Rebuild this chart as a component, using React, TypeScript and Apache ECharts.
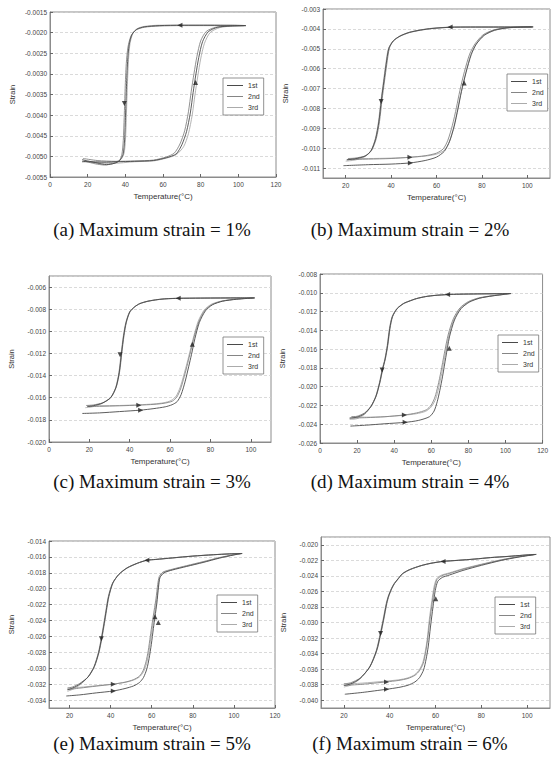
import React, { useEffect, useRef } from 'react';
import * as echarts from 'echarts';

const cycleNames = ['1st', '2nd', '3rd'];
const xTitle = 'Temperature(°C)';
const yTitle = 'Strain';
const captions = [
  '(a) Maximum strain = 1%',
  '(b) Maximum strain = 2%',
  '(c) Maximum strain = 3%',
  '(d) Maximum strain = 4%',
  '(e) Maximum strain = 5%',
  '(f) Maximum strain = 6%',
];

// ---- (a) 1% ----
const a1st = [[17,-0.00512],[25,-0.00514],[35,-0.00513],[45,-0.00512],[55,-0.0051],[62,-0.00503],[67,-0.00494],[70,-0.00472],[72.5,-0.0044],[74.5,-0.00395],[76,-0.00345],[77.5,-0.003],[79,-0.0026],[81,-0.00222],[84,-0.00198],[89,-0.00187],[96,-0.00184],[104,-0.00183],
  [96,-0.00182],[85,-0.00182],[70,-0.00182],[58,-0.00183],[50,-0.00186],[46,-0.00192],[43.5,-0.00205],[42,-0.0023],[41.2,-0.0027],[40.6,-0.0033],[40.1,-0.004],[39.6,-0.0046],[38.8,-0.00495],[37,-0.0051],[34,-0.00517],[30,-0.0052],[25,-0.00516],[20,-0.00511],[17,-0.00508]];
const a2nd = [[17.5,-0.00505],[25,-0.0051],[35,-0.00512],[45,-0.00511],[55,-0.00509],[62,-0.00501],[66,-0.00492],[69,-0.0047],[71.5,-0.00438],[73.5,-0.00392],[75,-0.00342],[76.5,-0.00298],[78,-0.00258],[80,-0.0022],[83,-0.00197],[88,-0.00187],[95,-0.00184],[103,-0.00183],
  [95,-0.00183],[85,-0.00183],[70,-0.00183],[58,-0.00184],[50,-0.00187],[45.5,-0.00194],[43,-0.00208],[41.4,-0.00235],[40.5,-0.00275],[39.9,-0.00335],[39.4,-0.00405],[38.9,-0.00462],[38.1,-0.00497],[36.5,-0.00512],[33,-0.00518],[29,-0.00521],[24,-0.00518],[18,-0.00511]];
const a3rd = [[18,-0.00511],[25,-0.00516],[33,-0.00517],[45,-0.00513],[55,-0.00511],[62,-0.00504],[67,-0.00496],[71,-0.00476],[73.5,-0.00445],[75.5,-0.004],[77,-0.0035],[78.5,-0.00305],[80,-0.00264],[82,-0.00226],[85,-0.002],[90,-0.00188],[97,-0.00184],[104,-0.00183],
  [96,-0.00183],[85,-0.00182],[70,-0.00182],[58,-0.00182],[50,-0.00185],[46.5,-0.0019],[44,-0.00202],[42.5,-0.00226],[41.7,-0.00265],[41.1,-0.00325],[40.6,-0.00395],[40.1,-0.00458],[39.3,-0.00493],[37.5,-0.00508],[34,-0.00514],[30,-0.00515],[24,-0.00512],[17,-0.00514]];
const aArrows = [[69,-0.00182,90],[39.5,-0.00372,180],[77.3,-0.00321,0]];

// ---- (b) 2% ----
const b1st = [[19,-0.01088],[30,-0.01083],[40,-0.0108],[48.5,-0.01074],[55,-0.01062],[60,-0.01045],[63.5,-0.01015],[65.8,-0.00965],[67.8,-0.0089],[69.5,-0.008],[71,-0.00715],[73,-0.0062],[75.3,-0.0053],[77.5,-0.00477],[81,-0.00432],[85.5,-0.00407],[91,-0.00395],[97,-0.00391],[102.6,-0.0039],
  [95,-0.00391],[85,-0.00391],[75,-0.00391],[66,-0.00392],[58,-0.00398],[53,-0.00406],[48,-0.00418],[44,-0.00436],[41,-0.0046],[39,-0.00498],[37.8,-0.0058],[36.8,-0.00665],[35.7,-0.0076],[34.6,-0.00868],[33.2,-0.00952],[31.2,-0.01012],[28.5,-0.0104],[24,-0.01054],[20.5,-0.01058]];
const b2nd = [[20.5,-0.01058],[30,-0.01055],[40,-0.01052],[48,-0.01046],[55,-0.01038],[60,-0.01025],[63,-0.01003],[65,-0.0096],[67,-0.00885],[68.8,-0.00795],[70.3,-0.0071],[72.3,-0.00615],[74.6,-0.00527],[77,-0.00475],[80.5,-0.0043],[85,-0.00406],[90,-0.00395],[96,-0.00391],[102,-0.0039],
  [95,-0.0039],[85,-0.0039],[75,-0.0039],[66,-0.00391],[58,-0.00397],[53,-0.00405],[48,-0.00417],[44,-0.00435],[41.2,-0.00458],[39.3,-0.00495],[38.1,-0.00578],[37.1,-0.00662],[36,-0.00757],[34.9,-0.00865],[33.5,-0.0095],[31.5,-0.0101],[28.8,-0.01038],[24,-0.0105],[21,-0.01052]];
const b3rd = [[21,-0.01052],[30,-0.01052],[40,-0.0105],[48,-0.01046],[55,-0.0104],[60,-0.0103],[63.5,-0.0101],[65.6,-0.00968],[67.6,-0.00893],[69.3,-0.00805],[70.8,-0.0072],[72.8,-0.00625],[75,-0.00533],[77.4,-0.00478],[81,-0.00433],[85.5,-0.00408],[91,-0.00396],[97,-0.00391],[102.4,-0.0039],
  [95,-0.00391],[85,-0.00391],[75,-0.00391],[66,-0.00392],[58,-0.00399],[53,-0.00407],[48,-0.00419],[44,-0.00437],[40.8,-0.00462],[38.8,-0.005],[37.6,-0.00582],[36.6,-0.00668],[35.5,-0.00763],[34.4,-0.0087],[33,-0.00955],[31,-0.01015],[28.2,-0.01044],[24,-0.0106],[20,-0.01065]];
const bArrows = [[66,-0.00391,90],[35.6,-0.00765,180],[48.3,-0.01046,-90],[48.5,-0.01074,-90],[72.2,-0.00672,0]];

// ---- (c) 3% ----
const c1st = [[16.5,-0.01742],[25,-0.01737],[35,-0.01725],[45.4,-0.01712],[52,-0.01698],[57.6,-0.01682],[61,-0.01663],[63.5,-0.01635],[65.5,-0.0157],[67.5,-0.0145],[69.2,-0.0132],[70.6,-0.0121],[72.3,-0.01065],[74.5,-0.0092],[77.5,-0.00815],[81,-0.0076],[86,-0.00728],[93,-0.0071],[102,-0.00698],
  [95,-0.00698],[85,-0.00699],[75,-0.007],[64,-0.00702],[58,-0.00706],[54,-0.00713],[49,-0.00728],[45,-0.0075],[42.5,-0.00778],[40,-0.00825],[38.2,-0.0092],[37,-0.0104],[35.9,-0.012],[34.8,-0.0137],[33.2,-0.01505],[30.6,-0.01598],[26.5,-0.01648],[22,-0.01672],[19,-0.0168]];
const c2nd = [[19,-0.0168],[25,-0.01678],[35,-0.01673],[44.5,-0.01667],[52,-0.0166],[57,-0.0165],[61,-0.01632],[63.3,-0.01595],[65.2,-0.0152],[67,-0.0141],[68.7,-0.0129],[70.2,-0.0118],[72,-0.01045],[74.3,-0.0091],[77.3,-0.00808],[81,-0.00756],[86,-0.00726],[93,-0.00709],[101.5,-0.00698],
  [95,-0.00698],[85,-0.00698],[75,-0.00699],[64,-0.00701],[58,-0.00705],[54,-0.00712],[49,-0.00727],[45,-0.00748],[42.7,-0.00775],[40.2,-0.00822],[38.4,-0.00915],[37.2,-0.01035],[36.1,-0.01195],[35,-0.01365],[33.4,-0.015],[30.8,-0.01595],[26.7,-0.01645],[22,-0.01665],[18.5,-0.0167]];
const c3rd = [[18.5,-0.0167],[25,-0.01672],[35,-0.0167],[44.5,-0.01664],[52,-0.01656],[57,-0.01645],[60.5,-0.01625],[63,-0.01585],[65,-0.01505],[66.8,-0.01395],[68.5,-0.0128],[70,-0.0117],[71.8,-0.0104],[74,-0.00905],[77,-0.00805],[80.5,-0.00755],[85.5,-0.00726],[92.5,-0.00709],[101,-0.00698],
  [95,-0.00698],[85,-0.00699],[75,-0.007],[64,-0.00702],[58,-0.00707],[54,-0.00714],[49,-0.00729],[45,-0.00751],[42.3,-0.0078],[39.8,-0.00828],[38,-0.00925],[36.8,-0.01045],[35.7,-0.01205],[34.6,-0.01375],[33,-0.0151],[30.4,-0.01602],[26.3,-0.01652],[22,-0.0168],[18,-0.0169]];
const cArrows = [[64,-0.007,90],[35.2,-0.01211,180],[45.4,-0.01712,-90],[44.5,-0.01667,-90],[71,-0.01116,0]];

// ---- (d) 4% ----
const d1st = [[16.4,-0.0242],[25,-0.0241],[35,-0.02395],[45.9,-0.0238],[53,-0.0236],[59,-0.0232],[61.5,-0.0226],[63.2,-0.0216],[64.6,-0.0204],[66.1,-0.01888],[67.8,-0.0169],[69.8,-0.0147],[72.5,-0.0129],[76,-0.0117],[80.5,-0.011],[86,-0.01058],[93,-0.01033],[98,-0.0102],[103,-0.01008],
  [95,-0.0101],[85,-0.01012],[75,-0.01015],[68.8,-0.01019],[62,-0.01028],[57,-0.0104],[52,-0.01062],[48,-0.0109],[45,-0.01115],[41.5,-0.0117],[39,-0.01255],[37.6,-0.0138],[36.4,-0.0156],[35.1,-0.01705],[33.6,-0.01823],[32.2,-0.01955],[30.2,-0.021],[27.5,-0.0221],[24,-0.02288],[20,-0.02325],[16,-0.02335]];
const d2nd = [[16,-0.02335],[25,-0.0233],[35,-0.0232],[45.5,-0.02301],[52,-0.0228],[57.3,-0.02247],[60,-0.02195],[62,-0.0211],[63.6,-0.0199],[65.2,-0.0184],[67,-0.0165],[69.2,-0.0144],[72,-0.01272],[75.5,-0.0116],[80,-0.01094],[85.5,-0.01055],[92.5,-0.01032],[97.5,-0.0102],[102,-0.01008],
  [95,-0.0101],[85,-0.01012],[75,-0.01015],[68.8,-0.01019],[62,-0.01028],[57,-0.01041],[52,-0.01063],[48,-0.01091],[45,-0.01117],[41.7,-0.01168],[39.2,-0.01252],[37.8,-0.01375],[36.6,-0.01555],[35.3,-0.017],[33.8,-0.0182],[32.4,-0.0195],[30.4,-0.02095],[27.7,-0.02205],[24,-0.0228],[20,-0.02315],[17,-0.0232]];
const d3rd = [[17,-0.0232],[25,-0.02325],[35,-0.0232],[45,-0.02305],[52,-0.02288],[57,-0.02262],[60,-0.02215],[62.4,-0.0213],[64,-0.0201],[65.6,-0.0186],[67.4,-0.0167],[69.5,-0.01455],[72.3,-0.01282],[75.8,-0.01165],[80.3,-0.01097],[86,-0.01057],[93,-0.01033],[98,-0.01021],[102.5,-0.01008],
  [95,-0.0101],[85,-0.01012],[75,-0.01015],[68.8,-0.01019],[62,-0.01028],[57,-0.0104],[52,-0.01061],[48,-0.01088],[45,-0.01113],[41.3,-0.01172],[38.8,-0.01258],[37.4,-0.01385],[36.2,-0.01565],[34.9,-0.0171],[33.4,-0.01826],[32,-0.0196],[30,-0.02105],[27.3,-0.02215],[24,-0.02295],[20,-0.0234],[16,-0.0235]];
const dArrows = [[68.8,-0.01019,90],[33.5,-0.01823,180],[45.9,-0.0238,-90],[45.5,-0.02301,-90],[69.7,-0.0159,0]];

// ---- (e) 5% ----
const e1st = [[18.4,-0.03349],[25,-0.03335],[33,-0.0331],[41.3,-0.03286],[47,-0.03255],[51.2,-0.03222],[54,-0.0318],[56,-0.03116],[57.6,-0.0301],[58.7,-0.0288],[59.8,-0.027],[60.8,-0.025],[61.6,-0.0235],[62.5,-0.0218],[63.3,-0.0198],[64,-0.0186],[66,-0.018],[70,-0.01765],[77,-0.0172],[85,-0.0167],[93,-0.01615],[100,-0.01575],[104,-0.01557],
  [98,-0.01562],[90,-0.01573],[80,-0.0159],[70,-0.01613],[62,-0.01632],[57.6,-0.01642],[53,-0.0168],[48,-0.01739],[44,-0.0182],[41,-0.0193],[39,-0.021],[37.8,-0.0228],[36.8,-0.0244],[35.6,-0.0262],[34.2,-0.028],[32,-0.0298],[29,-0.0311],[25,-0.032],[21.5,-0.0325],[19,-0.0327]];
const e2nd = [[19,-0.0327],[25,-0.0325],[33,-0.03225],[41.3,-0.032],[47,-0.03175],[51,-0.03145],[54,-0.031],[55.8,-0.0303],[57.2,-0.0292],[58.3,-0.0278],[59.3,-0.026],[60.3,-0.0242],[61.2,-0.0227],[62.1,-0.0212],[62.9,-0.0195],[63.7,-0.01845],[65.5,-0.0179],[70,-0.01755],[77,-0.0171],[85,-0.0166],[93,-0.01608],[100,-0.01572],[103.5,-0.01557],
  [98,-0.01562],[90,-0.01572],[80,-0.01589],[70,-0.01612],[62,-0.01631],[57.6,-0.01642],[53,-0.01679],[48,-0.01737],[44,-0.01818],[41.2,-0.01925],[39.2,-0.02095],[38,-0.02275],[37,-0.02435],[35.8,-0.02615],[34.4,-0.02795],[32.2,-0.02975],[29.2,-0.03105],[25,-0.0319],[21.5,-0.03235],[19,-0.0325]];
const e3rd = [[19,-0.0325],[25,-0.0324],[33,-0.0322],[41,-0.032],[47,-0.03178],[51,-0.0315],[54,-0.0311],[56,-0.03045],[57.5,-0.0294],[58.6,-0.028],[59.6,-0.0262],[60.6,-0.0244],[61.5,-0.0229],[62.4,-0.0214],[63.2,-0.01965],[64,-0.01855],[66,-0.01795],[70,-0.0176],[77,-0.01715],[85,-0.01665],[93,-0.01612],[100,-0.01574],[104,-0.01557],
  [98,-0.01562],[90,-0.01573],[80,-0.01591],[70,-0.01614],[62,-0.01633],[57.6,-0.01643],[53,-0.01682],[48,-0.01741],[44,-0.01823],[40.8,-0.01935],[38.8,-0.02105],[37.6,-0.02285],[36.6,-0.02445],[35.4,-0.02625],[34,-0.02805],[31.8,-0.02985],[28.8,-0.03115],[25,-0.0321],[21.5,-0.03265],[19,-0.0329]];
const eArrows = [[57.6,-0.01642,90],[35.5,-0.02629,180],[41.3,-0.03286,-90],[41.3,-0.032,-90],[61.6,-0.02353,0],[63.2,-0.02425,0]];

// ---- (f) 6% ----
const f1st = [[20.4,-0.03923],[28,-0.039],[38.6,-0.03859],[44,-0.03835],[48,-0.03807],[51,-0.03765],[53,-0.0371],[54.8,-0.0361],[55.9,-0.0347],[56.8,-0.03315],[57.8,-0.03058],[58.9,-0.02801],[59.9,-0.02587],[61,-0.0247],[63,-0.0242],[66,-0.0239],[72,-0.0233],[80,-0.02265],[88.8,-0.02201],[96,-0.0216],[104,-0.02124],
  [98,-0.02135],[91.7,-0.0215],[84,-0.02165],[77.2,-0.02184],[70,-0.022],[63.3,-0.02214],[58,-0.02238],[54,-0.02266],[50.5,-0.023],[48,-0.0233],[45.5,-0.02375],[43.7,-0.02437],[42,-0.025],[40.8,-0.02565],[39.5,-0.0266],[38.6,-0.02758],[37.2,-0.02972],[36,-0.03143],[34.3,-0.03357],[31.3,-0.03571],[27,-0.03722],[23,-0.0379],[20,-0.0381]];
const f2nd = [[20,-0.0381],[28,-0.03795],[38.6,-0.03764],[44,-0.03745],[48,-0.0372],[51,-0.0368],[53,-0.0362],[54.6,-0.0353],[55.6,-0.034],[56.5,-0.0323],[57.5,-0.0298],[58.6,-0.0274],[59.6,-0.0255],[60.7,-0.02445],[62.7,-0.024],[66,-0.0237],[72,-0.02315],[80,-0.02255],[88.8,-0.02195],[96,-0.02156],[103.5,-0.02124],
  [98,-0.02135],[91.7,-0.02149],[84,-0.02164],[77.2,-0.02183],[70,-0.02199],[63.3,-0.02213],[58,-0.02237],[54,-0.02265],[50.5,-0.02298],[48,-0.02328],[45.5,-0.02372],[43.9,-0.02433],[42.2,-0.02496],[41,-0.0256],[39.7,-0.02655],[38.8,-0.02752],[37.4,-0.02965],[36.2,-0.03138],[34.5,-0.0335],[31.5,-0.03563],[27.2,-0.03712],[23,-0.03775],[20,-0.0379]];
const f3rd = [[20,-0.0379],[28,-0.0378],[38,-0.03755],[44,-0.03737],[48,-0.03712],[51,-0.0367],[53,-0.03605],[54.5,-0.0351],[55.5,-0.0338],[56.4,-0.0321],[57.3,-0.0296],[58.4,-0.0272],[59.4,-0.02535],[60.5,-0.02435],[62.5,-0.02392],[66,-0.02362],[72,-0.02308],[80,-0.0225],[88.8,-0.02192],[96,-0.02154],[103,-0.02124],
  [98,-0.02136],[91.7,-0.02151],[84,-0.02166],[77.2,-0.02185],[70,-0.02201],[63.3,-0.02215],[58,-0.0224],[54,-0.02268],[50.5,-0.02302],[48,-0.02333],[45.5,-0.02378],[43.5,-0.02441],[41.8,-0.02505],[40.6,-0.0257],[39.3,-0.02665],[38.4,-0.02763],[37,-0.02978],[35.8,-0.03148],[34.1,-0.03362],[31.1,-0.03578],[26.8,-0.0373],[23,-0.03805],[20,-0.0383]];
const fArrows = [[63.3,-0.02214,90],[36,-0.03143,180],[38.6,-0.03859,-90],[38.6,-0.03764,-90],[60.1,-0.02694,0]];

const cycleData = [
  [a1st, a2nd, a3rd],
  [b1st, b2nd, b3rd],
  [c1st, c2nd, c3rd],
  [d1st, d2nd, d3rd],
  [e1st, e2nd, e3rd],
  [f1st, f2nd, f3rd],
];
const arrowData = [aArrows, bArrows, cArrows, dArrows, eArrows, fArrows];

// axis ranges per panel
const xRanges = [
  { min: 0, max: 120, interval: 20 },
  { min: 10, max: 110, splitNumber: 5, hideMin: true, hideMax: true },
  { min: 0, max: 110, splitNumber: 5, hideMax: true },
  { min: 0, max: 120, interval: 20 },
  { min: 10, max: 120, splitNumber: 5, hideMin: true },
  { min: 10, max: 110, splitNumber: 5, hideMin: true, hideMax: true },
];
const yRanges = [
  { min: -0.0055, max: -0.0015, interval: 0.0005, dec: 4 },
  { min: -0.0115, max: -0.003, splitNumber: 8, dec: 3, hideMin: true },
  { min: -0.02, max: -0.005, interval: 0.002, dec: 3, hideMax: true },
  { min: -0.026, max: -0.008, interval: 0.002, dec: 3 },
  { min: -0.035, max: -0.014, splitNumber: 10, dec: 3, hideMin: true },
  { min: -0.041, max: -0.019, splitNumber: 11, dec: 3, hideMin: true, hideMax: true },
];

// layout
const grids = [
  { left: 50, top: 12, width: 226, height: 165 },
  { left: 323, top: 9, width: 227, height: 169 },
  { left: 49, top: 276, width: 222, height: 166 },
  { left: 320, top: 274, width: 227, height: 169 },
  { left: 49, top: 541, width: 226, height: 167 },
  { left: 321, top: 537, width: 229, height: 171 },
];
const legendPos = [
  { left: 223, top: 78 },
  { left: 507, top: 74 },
  { left: 223, top: 337 },
  { left: 498, top: 335 },
  { left: 217, top: 595 },
  { left: 495, top: 597 },
];
const captionPos = [
  [152, 229], [410, 229],
  [152, 481], [410, 481],
  [152, 743], [410, 743],
];
const lineColors = ['#4a4a4a', '#858585', '#ababab'];

export default function App() {
  const ref = useRef<HTMLDivElement>(null);
  useEffect(() => {
    if (!ref.current) return;
    const chart = echarts.init(ref.current, undefined, { renderer: 'svg' });
    const font = 'Liberation Sans';
    const xAxis: any[] = [];
    const yAxis: any[] = [];
    const series: any[] = [];
    const legend: any[] = [];
    const grid: any[] = [];
    for (let i = 0; i < 6; i++) {
      grid.push({ ...grids[i], show: true, borderColor: '#8c8c8c', borderWidth: 1, containLabel: false });
      const xr: any = xRanges[i];
      const yr: any = yRanges[i];
      xAxis.push({
        type: 'value', gridIndex: i, min: xr.min, max: xr.max,
        interval: xr.interval, splitNumber: xr.splitNumber,
        name: xTitle, nameLocation: 'middle', nameGap: 15,
        nameTextStyle: { fontSize: 8, color: '#333', fontFamily: font },
        axisLine: { show: true, lineStyle: { color: '#8c8c8c', width: 1 } },
        axisTick: { show: true, inside: true, length: 3, lineStyle: { color: '#666' } },
        splitLine: { show: false },
        axisLabel: {
          fontSize: 6.5, color: '#444', margin: 4, fontFamily: font,
          showMinLabel: xr.hideMin ? false : undefined,
          showMaxLabel: xr.hideMax ? false : undefined,
        },
      });
      yAxis.push({
        type: 'value', gridIndex: i, min: yr.min, max: yr.max,
        interval: yr.interval, splitNumber: yr.splitNumber,
        name: yTitle, nameLocation: 'middle', nameGap: 34, nameRotate: 90,
        nameTextStyle: { fontSize: 7.5, color: '#333', fontFamily: font },
        axisLine: { show: true, lineStyle: { color: '#8c8c8c', width: 1 } },
        axisTick: { show: true, inside: true, length: 3, lineStyle: { color: '#666' } },
        splitLine: { show: true, lineStyle: { color: '#d0d0d0', type: [3, 2], width: 0.8 } },
        axisLabel: {
          fontSize: 6.5, color: '#444', margin: 3, fontFamily: font,
          formatter: (v: number) => v.toFixed(yr.dec),
          showMinLabel: yr.hideMin ? false : undefined,
          showMaxLabel: yr.hideMax ? false : undefined,
        },
      });
      for (let c = 2; c >= 0; c--) {
        series.push({
          type: 'line', name: cycleNames[c], xAxisIndex: i, yAxisIndex: i,
          data: cycleData[i][c], symbol: 'none', smooth: 0.25,
          lineStyle: { color: lineColors[c], width: 0.9 },
          itemStyle: { color: lineColors[c] },
          z: 2 + (2 - c),
        });
      }
      series.push({
        type: 'scatter', name: 'arrows', xAxisIndex: i, yAxisIndex: i,
        symbol: 'triangle', symbolSize: [5, 5],
        itemStyle: { color: '#222' },
        data: arrowData[i].map((p) => ({ value: [p[0], p[1]], symbolRotate: p[2] })),
        z: 6, silent: true,
      });
      legend.push({
        ...legendPos[i], orient: 'vertical', data: cycleNames, selectedMode: false,
        icon: 'rect', itemWidth: 16, itemHeight: 1, itemGap: 4, padding: [4, 4, 4, 4],
        borderColor: '#777', borderWidth: 0.8, backgroundColor: '#fff',
        textStyle: { fontSize: 7, color: '#333', fontFamily: font, lineHeight: 7 },
      });
    }
    const graphic = captions.map((t, i) => ({
      type: 'text', x: captionPos[i][0], y: captionPos[i][1],
      style: {
        text: t, fill: '#111', font: '19px "Liberation Serif"',
        align: 'center', verticalAlign: 'middle',
      },
    }));
    chart.setOption({
      animation: false,
      backgroundColor: '#fff',
      textStyle: { fontFamily: font },
      grid, xAxis, yAxis, series, legend, graphic,
    });
    return () => chart.dispose();
  }, []);
  return <div ref={ref} style={{ position: 'absolute', left: 0, top: 0, width: 551, height: 763 }} />;
}
